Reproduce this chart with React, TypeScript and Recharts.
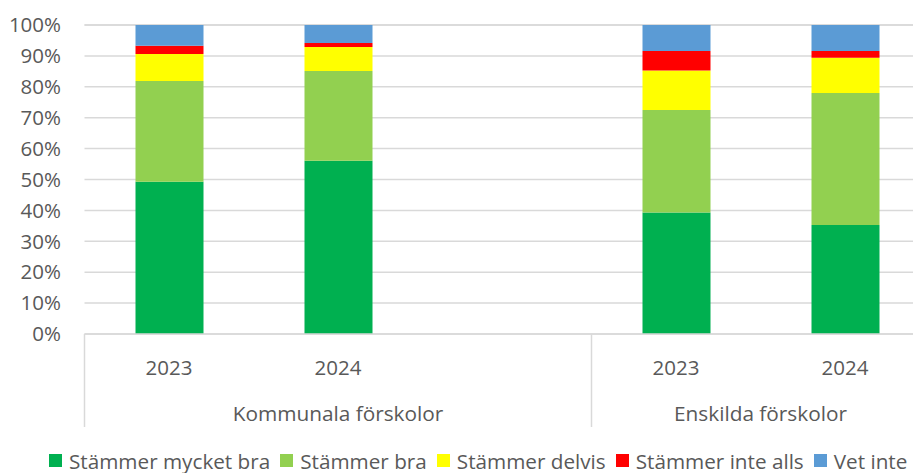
import React from 'react';
import { BarChart, Bar, XAxis, YAxis, CartesianGrid, Legend } from 'recharts';

const years = ['2023', '2024', '', '2023', '2024'];
const groups = ['Kommunala förskolor', 'Kommunala förskolor', 'Kommunala förskolor', 'Enskilda förskolor', 'Enskilda förskolor'];

const mycketBra = [49.3, 56.1, null, 39.3, 35.3];
const bra = [32.6, 29.0, null, 33.2, 42.7];
const delvis = [8.7, 7.8, null, 12.8, 11.4];
const inteAlls = [2.7, 1.3, null, 6.3, 2.2];
const vetInte = [6.7, 5.8, null, 8.4, 8.4];

const yTicks = [0, 10, 20, 30, 40, 50, 60, 70, 80, 90, 100];

const series = [
    { key: 'mycketBra', name: 'Stämmer mycket bra', color: '#00B050', values: mycketBra },
    { key: 'bra', name: 'Stämmer bra', color: '#92D050', values: bra },
    { key: 'delvis', name: 'Stämmer delvis', color: '#FFFF00', values: delvis },
    { key: 'inteAlls', name: 'Stämmer inte alls', color: '#FF0000', values: inteAlls },
    { key: 'vetInte', name: 'Vet inte', color: '#5B9BD5', values: vetInte },
];

const data = years.map((year, i) => {
    const row: any = { year, group: groups[i] };
    series.forEach(s => { row[s.key] = s.values[i]; });
    return row;
});

const FONT = '"Open Sans", sans-serif';
const TEXT = '#595959';
const LINE = '#d9d9d9';

const W = 940;
const H = 473;
const Y_AXIS_W = 84.5;
const MARGIN_RIGHT = 10.5;
const SLOT = (W - Y_AXIS_W - MARGIN_RIGHT) / years.length;

// two-level category axis: year, then group label with divider lines
const CategoryTick = ({ x, y, payload, index }: any) => {
    const half = SLOT / 2;
    const isGroupStart = index === 0 || groups[index] !== groups[index - 1];
    const members = groups.filter(g => g === groups[index]).length;
    return (
        <g>
            <text x={x} y={y + 33} textAnchor="middle" dominantBaseline="central"
                fontFamily={FONT} fontSize={20.5} fill={TEXT}>
                {payload.value}
            </text>
            {isGroupStart && (
                <>
                    <line x1={x - half} x2={x - half} y1={y} y2={y + 93} stroke={LINE} strokeWidth={1.5} />
                    <text x={x - half + (members * SLOT) / 2} y={y + 79} textAnchor="middle" dominantBaseline="central"
                        fontFamily={FONT} fontSize={20.8} fill={TEXT}>
                        {groups[index]}
                    </text>
                </>
            )}
            {index === years.length - 1 && (
                <line x1={x + half} x2={x + half} y1={y} y2={y + 93} stroke={LINE} strokeWidth={1.5} />
            )}
        </g>
    );
};

const LegendContent = () => (
    <div style={{ display: 'flex', alignItems: 'center', height: 25, paddingLeft: 49, paddingTop: 3, fontFamily: FONT, fontSize: 20.7, color: TEXT, whiteSpace: 'nowrap' }}>
        {series.map(s => (
            <span key={s.key} style={{ display: 'flex', alignItems: 'center', marginRight: 10 }}>
                <span style={{ display: 'inline-block', width: 13, height: 13, background: s.color, marginRight: 7 }} />
                {s.name}
            </span>
        ))}
    </div>
);

export default function App() {
    return (
        <div style={{ position: 'fixed', top: 0, left: 0, width: 913, height: 473, overflow: 'hidden', background: '#fff' }}>
            <BarChart width={W} height={H} data={data} barSize={68}
                margin={{ top: 25, right: MARGIN_RIGHT, left: 0, bottom: 0 }}>
                <CartesianGrid vertical={false} stroke={LINE} strokeWidth={1.5} />
                <XAxis dataKey="year" interval={0} tickLine={false} tickSize={0} tickMargin={0}
                    axisLine={{ stroke: LINE, strokeWidth: 1.5 }} height={111} tick={<CategoryTick />} />
                <YAxis domain={[0, 100]} ticks={yTicks} width={Y_AXIS_W} axisLine={false} tickLine={false}
                    tickSize={0} tickMargin={23.5} tickFormatter={(v) => `${v}%`}
                    tick={{ fill: TEXT, fontSize: 20.5, fontFamily: FONT }} />
                <Legend verticalAlign="bottom" content={<LegendContent />} />
                {series.map(s => (
                    <Bar key={s.key} dataKey={s.key} name={s.name} stackId="a" fill={s.color} isAnimationActive={false} />
                ))}
            </BarChart>
        </div>
    );
}
